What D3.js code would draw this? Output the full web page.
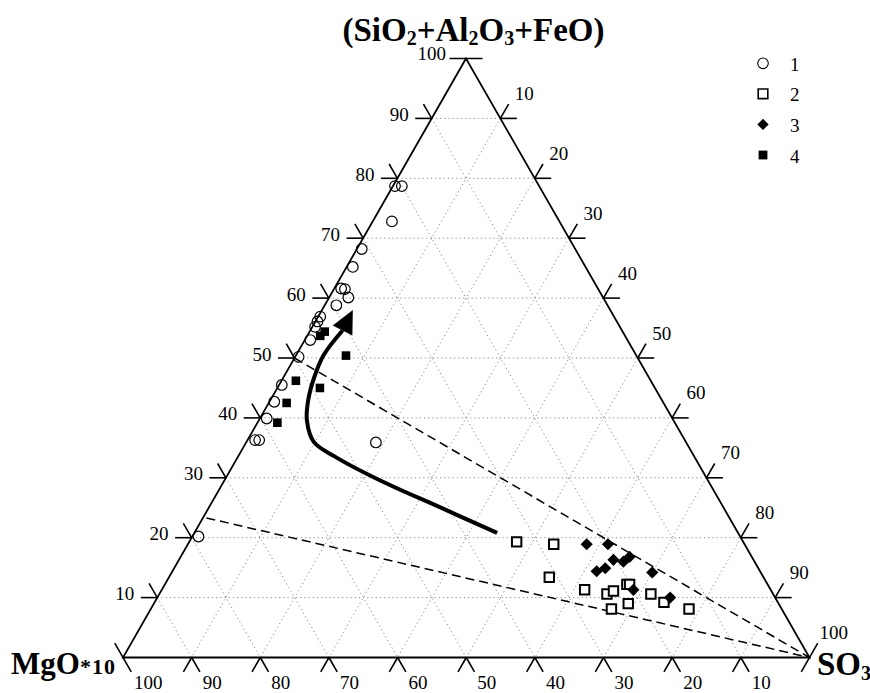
<!DOCTYPE html>
<html>
<head>
<meta charset="utf-8">
<script src="https://cdn.jsdelivr.net/npm/d3@7"></script>
<style>
  html, body { margin: 0; padding: 0; background: #fff; }
  svg { display: block; }
  text { font-family: "Liberation Serif", "Times New Roman", serif; fill: #000; }
</style>
</head>
<body>
<svg id="chart" width="870" height="693"></svg>
<script>
// ---------- DATA (ternary percentages: [top (SiO2+Al2O3+FeO), left (MgO*10), right (SO3)]) ----------
const tickValues = [10, 20, 30, 40, 50, 60, 70, 80, 90];
const leftAxisLabels = [10, 20, 30, 40, 50, 60, 70, 80, 90, 100];
const bottomAxisLabels = [100, 90, 80, 70, 60, 50, 40, 30, 20, 10];
const rightAxisLabels = [10, 20, 30, 40, 50, 60, 70, 80, 90, 100];
const legendLabels = ["1", "2", "3", "4"];

const series1 = [ // open circles
  [78.7, 21.0, 0.3], [78.7, 20.0, 1.3], [72.8, 24.4, 2.8], [68.2, 31.1, 0.7],
  [65.2, 33.9, 0.9], [61.6, 37.4, 1.0], [61.5, 36.9, 1.6], [60.1, 37.1, 2.8],
  [58.8, 39.5, 1.7], [56.9, 42.8, 0.3], [56.1, 43.6, 0.3], [55.2, 44.4, 0.4],
  [53.0, 46.2, 0.8], [50.2, 49.3, 0.5], [45.5, 54.1, 0.4], [42.7, 56.6, 0.7],
  [39.9, 59.1, 1.0], [36.3, 62.6, 1.1], [36.3, 62.0, 1.7], [35.9, 45.2, 18.9],
  [20.2, 78.9, 0.9]
];
const series2 = [ // open squares
  [19.3, 33.0, 47.7], [18.9, 27.8, 53.3], [13.4, 31.2, 55.4], [11.3, 27.1, 61.6],
  [10.6, 24.2, 65.2], [11.1, 23.0, 65.9], [12.2, 20.5, 67.3], [12.2, 20.1, 67.7],
  [9.0, 21.9, 69.1], [8.1, 24.8, 67.1], [10.6, 17.8, 71.6], [9.2, 16.6, 74.2],
  [8.1, 13.5, 78.4]
];
const series3 = [ // filled diamonds
  [18.9, 23.0, 58.1], [18.9, 19.9, 61.2], [16.3, 20.4, 63.3], [14.4, 23.8, 61.8],
  [14.9, 22.3, 62.8], [16.0, 19.1, 64.9], [16.8, 17.8, 65.4], [11.3, 20.0, 68.7],
  [14.2, 15.8, 70.0], [10.0, 15.3, 74.7]
];
const series4 = [ // filled squares
  [54.4, 43.4, 2.2], [53.7, 44.4, 1.9], [50.4, 42.3, 7.3], [46.2, 51.7, 2.1],
  [45.0, 48.8, 6.2], [42.5, 54.9, 2.6], [39.2, 57.9, 2.9]
];
const dashedLines = [
  [[50.0, 50.0, 0.0], [0, 0, 100]],
  [[23.3, 76.2, 0.5], [0, 0, 100]]
];
const arrowPath = [
  [20.8, 35.1, 44.1], [25.1, 41.3, 33.6], [29.6, 47.8, 22.6], [33.5, 52.3, 14.2],
  [36.0, 54.2, 9.8], [39.6, 53.4, 7.0], [43.0, 51.5, 5.5], [46.7, 48.8, 4.5],
  [50.5, 45.5, 4.0], [54.6, 40.7, 4.7]
];
const arrowTip = [58.0, 37.5, 4.5];

// ---------- LAYOUT ----------
const svg = d3.select("#chart");
const yOf = d3.scaleLinear().domain([0, 100]).range([657.5, 58.5]);   // top component -> y
const xLeftOf = d3.scaleLinear().domain([0, 100]).range([123, 466]);  // left-edge x at that level
const xAlong = d3.scaleLinear().domain([0, 100]).range([0, 686.5]);   // SO3 -> horizontal offset

function proj(t) {
  const s = t[0] + t[1] + t[2];
  const a = t[0] * 100 / s, c = t[2] * 100 / s;
  return [xLeftOf(a) + xAlong(c), yOf(a)];
}
const L = 16.5;
const S60 = Math.sin(Math.PI / 3), C60 = 0.5;

const gGrid = svg.append("g");
const gTicks = svg.append("g");
const gLines = svg.append("g");
const gMarks = svg.append("g");
const gText = svg.append("g");

// ---------- GRID ----------
const gridSegs = [];
tickValues.forEach(v => {
  gridSegs.push([proj([v, 100 - v, 0]), proj([v, 0, 100 - v])]);       // constant top
  gridSegs.push([proj([100 - v, 0, v]), proj([0, 100 - v, v])]);       // constant right
  gridSegs.push([proj([100 - v, v, 0]), proj([0, v, 100 - v])]);       // constant left
});
gGrid.selectAll("line").data(gridSegs).join("line")
  .attr("x1", d => d[0][0]).attr("y1", d => d[0][1])
  .attr("x2", d => d[1][0]).attr("y2", d => d[1][1])
  .attr("stroke", "#8a8a8a").attr("stroke-width", 1)
  .attr("stroke-dasharray", "1.2,3");

// ---------- TICKS ----------
const tickSegs = [];
tickValues.forEach(v => {
  const pl = proj([v, 100 - v, 0]);
  tickSegs.push([pl, [pl[0] - L, pl[1]]]);
  tickSegs.push([pl, [pl[0] - L * C60, pl[1] - L * S60]]);
  const pr = proj([100 - v, 0, v]);
  tickSegs.push([pr, [pr[0] + L, pr[1]]]);
  tickSegs.push([pr, [pr[0] + L * C60, pr[1] - L * S60]]);
  const pb = proj([0, v, 100 - v]);
  tickSegs.push([pb, [pb[0] - L * C60, pb[1] + L * S60]]);
  tickSegs.push([pb, [pb[0] + L * C60, pb[1] + L * S60]]);
});
const apex = proj([100, 0, 0]), bl = proj([0, 100, 0]), br = proj([0, 0, 100]);
tickSegs.push([[apex[0] - L, apex[1]], [apex[0] + L, apex[1]]]);
tickSegs.push([[bl[0] - L * C60, bl[1] - L * S60], [bl[0] + L * C60, bl[1] + L * S60]]);
tickSegs.push([[br[0] + L * C60, br[1] - L * S60], [br[0] - L * C60, br[1] + L * S60]]);
gTicks.selectAll("line").data(tickSegs).join("line")
  .attr("x1", d => d[0][0]).attr("y1", d => d[0][1])
  .attr("x2", d => d[1][0]).attr("y2", d => d[1][1])
  .attr("stroke", "#000").attr("stroke-width", 1.6);

// ---------- TRIANGLE ----------
gTicks.append("path")
  .attr("d", d3.line()([apex, bl, br]) + "Z")
  .attr("fill", "none").attr("stroke", "#000").attr("stroke-width", 1.8)
  .attr("stroke-linejoin", "miter");

// ---------- DASHED LINES ----------
gLines.selectAll("line.dash").data(dashedLines).join("line")
  .attr("class", "dash")
  .attr("x1", d => proj(d[0])[0]).attr("y1", d => proj(d[0])[1])
  .attr("x2", d => proj(d[1])[0]).attr("y2", d => proj(d[1])[1])
  .attr("stroke", "#000").attr("stroke-width", 1.5)
  .attr("stroke-dasharray", "9,5");

// ---------- ARROW ----------
const arrowLine = d3.line().curve(d3.curveCatmullRom.alpha(0.5));
gLines.append("path")
  .attr("d", arrowLine(arrowPath.map(proj)))
  .attr("fill", "none").attr("stroke", "#000").attr("stroke-width", 4)
  .attr("stroke-linecap", "butt");
{
  const base = proj(arrowPath[arrowPath.length - 1]);
  const tip = proj(arrowTip);
  const dx = tip[0] - base[0], dy = tip[1] - base[1];
  const len = Math.hypot(dx, dy);
  const nx = -dy / len, ny = dx / len, hw = 11;
  gLines.append("path")
    .attr("d", d3.line()([tip, [base[0] + nx * hw, base[1] + ny * hw], [base[0] - nx * hw, base[1] - ny * hw]]) + "Z")
    .attr("fill", "#000");
}

// ---------- MARKS ----------
const sym = {
  circle: d3.symbol().type(d3.symbolCircle).size(Math.PI * 5.3 * 5.3),
  square: d3.symbol().type(d3.symbolSquare).size(9.4 * 9.4),
  diamond: d3.symbol().type(d3.symbolSquare).size(8.6 * 8.6),
  fsquare: d3.symbol().type(d3.symbolSquare).size(8.6 * 8.6)
};
function drawSeries(data, gen, fill, stroke, sw, rot) {
  gMarks.append("g").selectAll("path").data(data).join("path")
    .attr("transform", d => `translate(${proj(d)[0]},${proj(d)[1]}) rotate(${rot})`)
    .attr("d", gen())
    .attr("fill", fill).attr("stroke", stroke).attr("stroke-width", sw);
}
drawSeries(series1, sym.circle, "none", "#000", 1.2, 0);
drawSeries(series2, sym.square, "#fff", "#000", 2, 0);
drawSeries(series3, sym.diamond, "#000", "none", 0, 45);
drawSeries(series4, sym.fsquare, "#000", "none", 0, 0);

// ---------- AXIS LABELS ----------
gText.selectAll("text.la").data(leftAxisLabels).join("text")
  .attr("class", "la")
  .attr("x", v => proj([v, 100 - v, 0])[0] - (v === 100 ? 20 : 23))
  .attr("y", v => proj([v, 100 - v, 0])[1] + (v === 100 ? 1 : 2.5))
  .attr("text-anchor", "end").attr("font-size", 19)
  .text(v => v);
gText.selectAll("text.ba").data(bottomAxisLabels).join("text")
  .attr("class", "ba")
  .attr("x", v => proj([0, v, 100 - v])[0] + 11)
  .attr("y", v => proj([0, v, 100 - v])[1] + 31)
  .attr("font-size", 19)
  .text(v => v);
gText.selectAll("text.ra").data(rightAxisLabels).join("text")
  .attr("class", "ra")
  .attr("x", v => proj([100 - v, 0, v])[0] + (v === 100 ? 10 : 14.5))
  .attr("y", v => proj([100 - v, 0, v])[1] - 18.5)
  .attr("font-size", 19)
  .text(v => v);

// ---------- TITLES ----------
const topTitle = gText.append("text")
  .attr("x", 473.5).attr("y", 40.5).attr("text-anchor", "middle")
  .attr("font-size", 33).attr("font-weight", "bold");
[["(SiO", 0, 33], ["2", 4.5, 20], ["+Al", -4.5, 33], ["2", 4.5, 20], ["O", -4.5, 33], ["3", 4.5, 20], ["+FeO)", -4.5, 33]]
  .forEach(([t, dy, fs]) => topTitle.append("tspan").attr("dy", dy).attr("font-size", fs).text(t));

const mgTitle = gText.append("text").attr("x", 11).attr("y", 673.5).attr("font-weight", "bold");
mgTitle.append("tspan").attr("font-size", 31).text("MgO");
mgTitle.append("tspan").attr("font-size", 22).attr("letter-spacing", 1).text("*10");

const soTitle = gText.append("text").attr("x", 817).attr("y", 675).attr("font-weight", "bold");
soTitle.append("tspan").attr("font-size", 33).text("SO");
soTitle.append("tspan").attr("font-size", 20).attr("dy", 5).text("3");

// ---------- LEGEND ----------
const legendSyms = [
  { gen: d3.symbol().type(d3.symbolCircle).size(Math.PI * 5.3 * 5.3), fill: "none", stroke: "#000", sw: 1.1, rot: 0 },
  { gen: d3.symbol().type(d3.symbolSquare).size(9.6 * 9.6), fill: "#fff", stroke: "#000", sw: 1.6, rot: 0 },
  { gen: d3.symbol().type(d3.symbolSquare).size(8 * 8), fill: "#000", stroke: "none", sw: 0, rot: 45 },
  { gen: d3.symbol().type(d3.symbolSquare).size(8.8 * 8.8), fill: "#000", stroke: "none", sw: 0, rot: 0 }
];
const legendY = d3.scalePoint().domain(legendLabels).range([63.3, 155]);
const lg = svg.append("g");
legendLabels.forEach((lab, i) => {
  const s = legendSyms[i];
  lg.append("path").attr("transform", `translate(763,${legendY(lab)}) rotate(${s.rot})`)
    .attr("d", s.gen()).attr("fill", s.fill).attr("stroke", s.stroke).attr("stroke-width", s.sw);
  lg.append("text").attr("x", 790).attr("y", legendY(lab) + 7.5).attr("font-size", 19).text(lab);
});
</script>
</body>
</html>
